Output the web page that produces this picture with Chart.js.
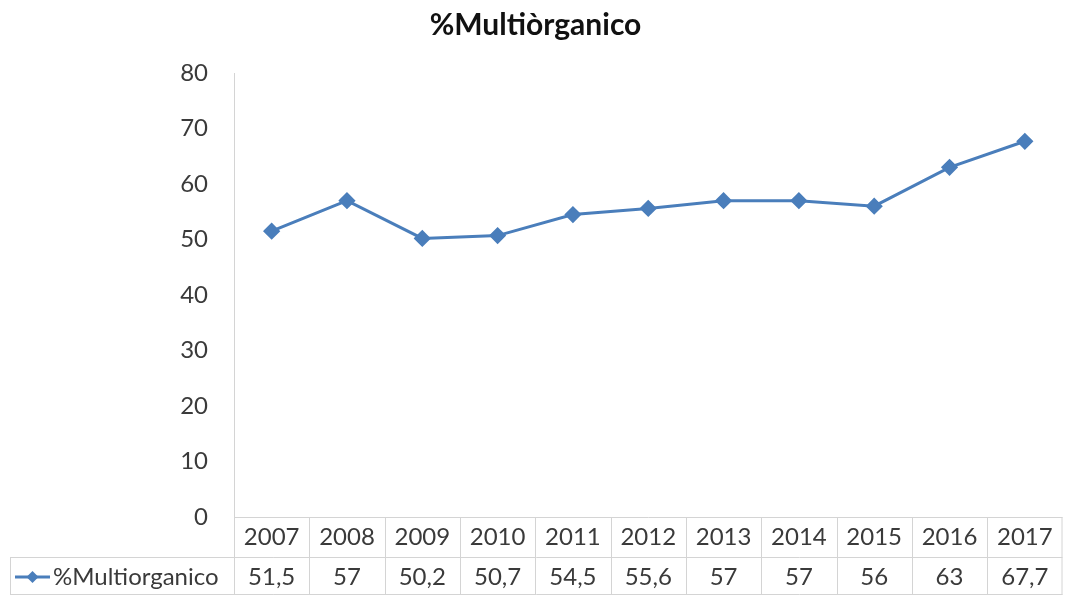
<!DOCTYPE html>
<html>
<head>
<meta charset="utf-8">
<script src="https://cdn.jsdelivr.net/npm/chart.js@4"></script>
<style>
html,body{margin:0;padding:0;background:#fff;}
#wrap{width:1072px;height:595px;position:relative;}
</style>
</head>
<body>
<div id="wrap"><canvas id="c" width="1072" height="595"></canvas></div>
<script>
const chartTitle = '%Multiòrganico';
const seriesName = '%Multiorganico';
const years = ['2007','2008','2009','2010','2011','2012','2013','2014','2015','2016','2017'];
const values = [51.5, 57, 50.2, 50.7, 54.5, 55.6, 57, 57, 56, 63, 67.7];
const valueLabels = ['51,5','57','50,2','50,7','54,5','55,6','57','57','56','63','67,7'];

const FONT = 'Lato, "Open Sans", sans-serif';
const LINE_COLOR = '#4a7ebb';
const GRID = '#d4d4d4';
const TEXT = '#3a3a3a';

const tablePlugin = {
  id: 'dataTable',
  afterDraw(chart) {
    const ctx = chart.ctx;
    const x = chart.scales.x;
    const area = chart.chartArea;
    const top = area.bottom;
    const mid = top + 40;
    const bot = chart.height;
    const n = years.length;
    const step = (x.getPixelForValue(1) - x.getPixelForValue(0));
    ctx.save();
    ctx.strokeStyle = GRID;
    ctx.lineWidth = 1;
    ctx.beginPath();
    ctx.moveTo(area.left, top + 0.5); ctx.lineTo(area.right, top + 0.5);
    ctx.moveTo(10, mid + 0.5); ctx.lineTo(area.right, mid + 0.5);
    ctx.moveTo(10, bot - 0.5); ctx.lineTo(area.right, bot - 0.5);
    for (let i = 0; i <= n; i++) {
      const px = Math.round(x.getPixelForValue(i) - step / 2) + 0.5;
      ctx.moveTo(Math.min(px, area.right - 0.5), top);
      ctx.lineTo(Math.min(px, area.right - 0.5), bot);
    }
    ctx.moveTo(10.5, mid); ctx.lineTo(10.5, bot);
    ctx.stroke();

    ctx.fillStyle = TEXT;
    ctx.font = '24px ' + FONT;
    ctx.textAlign = 'center';
    ctx.textBaseline = 'middle';
    const ty = (mid + bot) / 2 + 1;
    valueLabels.forEach((t, i) => ctx.fillText(t, x.getPixelForValue(i), ty));

    ctx.strokeStyle = LINE_COLOR;
    ctx.lineWidth = 3;
    ctx.beginPath();
    ctx.moveTo(15, ty); ctx.lineTo(50, ty);
    ctx.stroke();
    ctx.fillStyle = LINE_COLOR;
    ctx.beginPath();
    ctx.moveTo(32.5, ty - 6); ctx.lineTo(38.5, ty); ctx.lineTo(32.5, ty + 6); ctx.lineTo(26.5, ty);
    ctx.closePath(); ctx.fill();
    ctx.fillStyle = TEXT;
    ctx.textAlign = 'left';
    ctx.fillText(seriesName, 53, ty);
    ctx.restore();
  }
};

new Chart(document.getElementById('c'), {
  type: 'line',
  data: {
    labels: years,
    datasets: [{
      label: seriesName,
      data: values,
      borderColor: LINE_COLOR,
      backgroundColor: LINE_COLOR,
      borderWidth: 3,
      pointStyle: 'rectRot',
      pointRadius: 6.5,
      pointHoverRadius: 6.5,
      tension: 0,
      fill: false
    }]
  },
  options: {
    responsive: false,
    animation: false,
    layout: { padding: { left: 0, right: 1, top: 0, bottom: 38 } },
    plugins: {
      legend: { display: false },
      tooltip: { enabled: false },
      title: {
        display: true,
        text: chartTitle,
        color: '#111',
        font: { family: FONT, size: 30, weight: 'bold', lineHeight: 1.2 },
        padding: { top: 7, bottom: 30 }
      }
    },
    scales: {
      x: {
        type: 'category',
        offset: true,
        grid: { display: false, drawTicks: false },
        border: { display: false },
        ticks: { color: TEXT, font: { family: FONT, size: 24 }, padding: 5.6, maxRotation: 0 },
        afterFit(s) { s.height = 40; }
      },
      y: {
        min: 0, max: 80,
        grid: { display: false, drawTicks: false },
        border: { display: true, color: GRID, width: 1 },
        ticks: { stepSize: 10, color: TEXT, font: { family: FONT, size: 24 }, padding: 26 },
        afterFit(s) { s.width = 234; }
      }
    }
  },
  plugins: [tablePlugin]
});
</script>
</body>
</html>
